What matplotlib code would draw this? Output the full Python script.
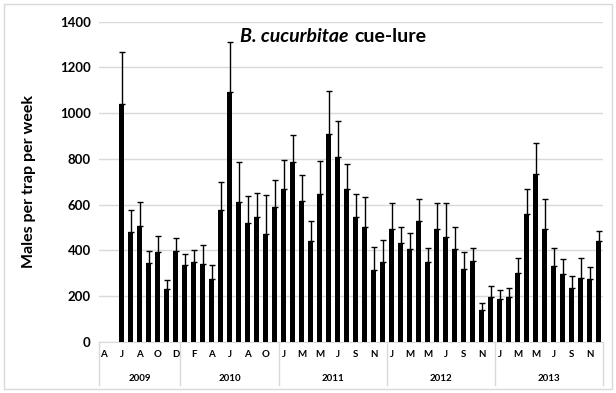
import numpy as np
import matplotlib
matplotlib.use('Agg')
import matplotlib.pyplot as plt
from matplotlib.patches import Rectangle
import matplotlib.transforms as mtransforms

plt.rcParams['font.family'] = ['Lato', 'DejaVu Sans']

# months per year (2010 has no December in the source)
years = ['2009', '2010', '2011', '2012', '2013']
months_2009 = ['A', 'M', 'J', 'J', 'A', 'S', 'O', 'N', 'D']
months_2010 = ['J', 'F', 'M', 'A', 'M', 'J', 'J', 'A', 'S', 'O', 'N']
months_full = ['J', 'F', 'M', 'A', 'M', 'J', 'J', 'A', 'S', 'O', 'N', 'D']
months = months_2009 + months_2010 + months_full * 3
year_len = [9, 11, 12, 12, 12]

# mean males per trap per week (nan = no data)
males = [np.nan, np.nan, 1038, 481, 507, 343, 391, 230, 395,
         334, 347, 340, 274, 575, 1092, 611, 521, 544, 470, 589,
         668, 785, 617, 440, 646, 907, 806, 668, 547, 503, 314, 350,
         493, 432, 404, 529, 347, 493, 456, 404, 318, 354, 139, 197,
         185, 197, 299, 558, 734, 493, 332, 296, 236, 280, 273, 440]
# standard error (upper bar only)
se = [np.nan, np.nan, 229, 95, 103, 55, 71, 40, 59,
      51, 54, 81, 61, 125, 218, 175, 116, 108, 172, 118,
      127, 121, 112, 88, 143, 190, 159, 109, 99, 128, 102, 95,
      112, 71, 70, 97, 61, 112, 149, 96, 73, 57, 29, 47,
      41, 39, 67, 110, 137, 131, 76, 64, 51, 87, 55, 46]

males = np.array(males, dtype=float)
se = np.array(se, dtype=float)
x = np.arange(len(males))

fig = plt.figure(figsize=(6.16, 3.93), dpi=100)
ax = fig.add_axes([99/616, 1 - 341.7/393, 504/616, 320/393])

# chart border
fig.patches.append(Rectangle((4/616, 4/393), 608/616, 385/393, transform=fig.transFigure,
                             fill=False, edgecolor='#d9d9d9', linewidth=1))

ax.bar(x, males, width=0.66, color='black', zorder=3)
ax.errorbar(x, males, yerr=[np.zeros_like(se), se], fmt='none', ecolor='black',
            elinewidth=1, capsize=2.5, capthick=1, zorder=4)

ax.set_xlim(-0.5, len(males) - 0.5)
ax.set_ylim(0, 1400)
ax.set_yticks(range(0, 1401, 200))
ax.yaxis.grid(True, color='#d9d9d9', linewidth=1, zorder=0)
ax.set_axisbelow(True)
for s in ['top', 'right', 'left']:
    ax.spines[s].set_visible(False)
ax.spines['bottom'].set_color('#d9d9d9')
ax.tick_params(axis='y', length=0, labelsize=9.5, pad=6)
for lab in ax.get_yticklabels():
    lab.set_fontweight('bold')

# month labels, every other category
ax.set_xticks(x[::2])
ax.set_xticklabels(months[::2], fontsize=7, fontweight='bold')
ax.tick_params(axis='x', length=0, pad=6)

# year level of the category axis
trans = mtransforms.blended_transform_factory(ax.transData, ax.transAxes)
start = 0
bounds = [-0.5]
for yr, n in zip(years, year_len):
    mid = start + (n - 1) / 2
    ax.text(mid, -0.115, yr, transform=trans, ha='center', va='center',
            fontsize=7, fontweight='bold')
    start += n
    bounds.append(start - 0.5)
for b in bounds:
    ax.plot([b, b], [0, -0.135], transform=trans, color='#d9d9d9', lw=1, clip_on=False)

ax.set_ylabel('Males per trap per week', fontsize=11.5, fontweight='bold', labelpad=17)

# title inside plot
ax.text(0.496, 0.953, 'B. cucurbitae', transform=ax.transAxes, ha='right', va='center',
        fontsize=14, fontweight='bold', fontstyle='italic')
ax.text(0.506, 0.953, 'cue-lure', transform=ax.transAxes, ha='left', va='center',
        fontsize=14, fontweight='bold')

fig.savefig('out.png', dpi=100)
